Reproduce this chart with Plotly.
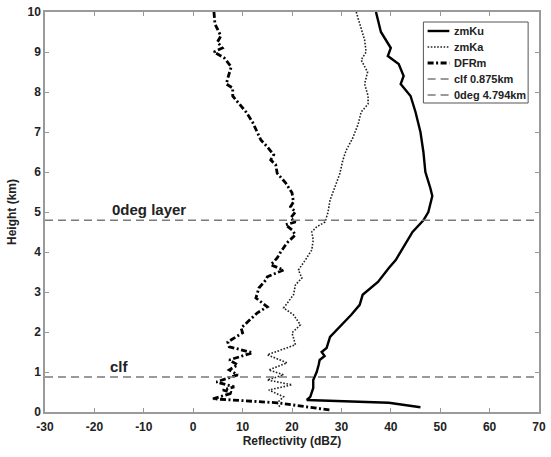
import plotly.graph_objects as go

# ---- data ----
ku_height = [10.0, 9.5, 9.1, 8.9, 8.7, 8.4, 8.2, 7.9, 7.5, 7.0, 6.5, 6.0, 5.6, 5.4, 5.0,
             4.79, 4.5, 4.2, 4.0, 3.8, 3.6, 3.4, 3.25, 2.93, 2.68, 2.43, 2.18, 1.88, 1.6,
             1.5, 1.4, 1.3, 1.18, 1.0, 0.8, 0.6, 0.38, 0.3, 0.23, 0.12]
ku_dbz = [37.0, 38.0, 40.0, 39.4, 41.6, 42.6, 42.0, 44.0, 45.0, 46.0, 46.6, 47.0, 48.0, 48.4, 47.6,
          46.6, 44.4, 43.0, 42.0, 41.0, 39.6, 38.4, 37.4, 34.3, 33.7, 32.0, 30.0, 27.7, 27.0,
          26.0, 26.6, 25.6, 25.4, 25.0, 24.3, 24.3, 23.7, 23.0, 39.6, 46.0]

ka_height = [10.0, 9.7, 9.3, 9.0, 8.8, 8.5, 8.2, 7.9, 7.7, 7.5, 7.2, 6.85, 6.55, 6.3, 5.97,
             5.63, 5.3, 5.0, 4.75, 4.63, 4.5, 4.3, 4.05, 3.8, 3.55, 3.35, 3.18, 2.93, 2.6,
             2.43, 2.18, 1.98, 1.68, 1.43, 1.23, 1.05, 0.93, 0.8, 0.68, 0.55, 0.38, 0.23, 0.1]
ka_dbz = [33.0, 33.7, 34.7, 35.0, 34.0, 35.3, 34.7, 35.4, 35.4, 34.0, 33.4, 32.3, 31.0, 30.3, 29.7,
          28.7, 27.7, 27.3, 26.7, 25.0, 24.0, 24.3, 24.0, 22.7, 21.3, 22.0, 20.7, 20.3, 18.3,
          20.3, 21.7, 20.0, 20.7, 15.0, 19.0, 15.3, 18.3, 15.0, 20.0, 15.3, 18.3, 17.0, 17.7]

dfr_height = [10.0, 9.7, 9.4, 9.25, 9.1, 9.0, 8.85, 8.63, 8.43, 8.2, 8.1, 7.9, 7.75, 7.5, 7.25,
              7.0, 6.8, 6.63, 6.43, 6.3, 6.18, 5.97, 5.73, 5.48, 5.25, 5.13, 5.0, 4.85, 4.75,
              4.68, 4.55, 4.43, 4.23, 4.0, 3.85, 3.68, 3.55, 3.38, 3.3, 3.1, 2.85, 2.63, 2.48,
              2.25, 2.1, 1.98, 1.75, 1.63, 1.48, 1.3, 1.18, 1.05, 0.93, 0.75, 0.63, 0.55, 0.48,
              0.33, 0.23, 0.05]
dfr_db = [4.2, 4.4, 5.6, 4.9, 5.9, 4.2, 6.3, 7.7, 7.2, 6.7, 8.0, 8.0, 9.0, 10.7, 12.0,
          13.0, 13.7, 15.0, 16.3, 15.7, 16.7, 17.0, 18.7, 20.0, 20.3, 19.7, 20.7, 19.7, 20.7,
          18.7, 20.0, 20.7, 19.0, 17.7, 17.0, 15.7, 18.3, 15.0, 14.7, 13.3, 12.7, 15.0, 13.0,
          11.0, 9.7, 10.0, 7.0, 7.3, 12.0, 7.3, 9.0, 7.3, 9.0, 4.7, 8.3, 6.0, 8.0,
          4.0, 17.0, 27.7]

clf_height = 0.875
zero_deg_height = 4.794
x_range = [-30, 70]
y_range = [0, 10]
x_ticks = [-30, -20, -10, 0, 10, 20, 30, 40, 50, 60, 70]
y_ticks = [0, 1, 2, 3, 4, 5, 6, 7, 8, 9, 10]
x_tick_labels = [str(v) for v in x_ticks]
y_tick_labels = [str(v) for v in y_ticks]

series_names = ["zmKu", "zmKa", "DFRm",
                f"clf {clf_height:.3f}km", f"0deg {zero_deg_height:.3f}km"]

FONT = "Liberation Sans, Arial, sans-serif"
TXT = "#222222"
GRAYLINE = "#7a7a7a"

styles = [
    dict(color="black", width=2.4),
    dict(color="#222222", width=1.6, dash="1.6px,1.6px"),
    dict(color="black", width=2.8, dash="6px,2.5px,2px,2.5px"),
    dict(color=GRAYLINE, width=1.3, dash="8px,5px"),
    dict(color=GRAYLINE, width=1.3, dash="8px,5px"),
]

fig = go.Figure()
fig.add_trace(go.Scatter(x=ku_dbz, y=ku_height, mode="lines", name=series_names[0],
                         line=styles[0], showlegend=False))
fig.add_trace(go.Scatter(x=ka_dbz, y=ka_height, mode="lines", name=series_names[1],
                         line=styles[1], showlegend=False))
fig.add_trace(go.Scatter(x=dfr_db, y=dfr_height, mode="lines", name=series_names[2],
                         line=styles[2], showlegend=False))
fig.add_trace(go.Scatter(x=x_range, y=[clf_height, clf_height], mode="lines",
                         name=series_names[3], line=styles[3], showlegend=False))
fig.add_trace(go.Scatter(x=x_range, y=[zero_deg_height, zero_deg_height], mode="lines",
                         name=series_names[4], line=styles[4], showlegend=False))

# ---- compact legend box (paper coordinates) ----
leg_x0, leg_x1, leg_y0, leg_y1 = 0.766, 0.978, 0.7725, 0.975
fig.add_shape(type="rect", xref="paper", yref="paper", x0=leg_x0, x1=leg_x1,
              y0=leg_y0, y1=leg_y1, line=dict(color="#555555", width=1),
              fillcolor="white", layer="above")
for i, (nm, st) in enumerate(zip(series_names, styles)):
    yy = 0.9525 - i * 0.04
    fig.add_shape(type="line", xref="paper", yref="paper", x0=0.7745, x1=0.8185,
                  y0=yy, y1=yy, line=st, layer="above")
    fig.add_annotation(xref="paper", yref="paper", x=0.8235, y=yy, text=nm,
                       showarrow=False, xanchor="left", yanchor="middle",
                       font=dict(family=FONT, size=11, color=TXT, weight="bold"))

fig.add_annotation(x=-9, y=zero_deg_height, text="0deg layer", showarrow=False,
                   xanchor="center", yanchor="bottom", yshift=0,
                   font=dict(family=FONT, size=15, color=TXT, weight="bold"))
fig.add_annotation(x=-15, y=clf_height, text="clf", showarrow=False,
                   xanchor="center", yanchor="bottom", yshift=0,
                   font=dict(family=FONT, size=15, color=TXT, weight="bold"))

axis_common = dict(showgrid=False, zeroline=False, showline=True, linecolor="#9a9a9a",
                   linewidth=1.5, mirror="ticks", ticks="inside", ticklen=4,
                   tickcolor="#9a9a9a", tickwidth=1, ticklabeloverflow="allow",
                   tickfont=dict(family=FONT, size=12, color=TXT, weight="bold"))

fig.update_xaxes(range=x_range, tickvals=x_ticks, ticktext=x_tick_labels,
                 ticklabelstandoff=3,
                 title=dict(text="Reflectivity (dBZ)", standoff=0,
                            font=dict(family=FONT, size=12, color=TXT, weight="bold")),
                 **axis_common)
fig.update_yaxes(range=y_range, tickvals=y_ticks, ticktext=y_tick_labels,
                 title=dict(text="Height (km)", standoff=8,
                            font=dict(family=FONT, size=12, color=TXT, weight="bold")),
                 **axis_common)

fig.update_layout(
    width=551, height=457,
    margin=dict(l=45, r=5, t=12, b=45),
    paper_bgcolor="white", plot_bgcolor="white",
    showlegend=False,
    font=dict(family=FONT, color=TXT),
)

fig.write_html("out.html", config={"displayModeBar": False},
               post_script="document.body.style.margin='0';document.body.style.overflow='hidden';")
